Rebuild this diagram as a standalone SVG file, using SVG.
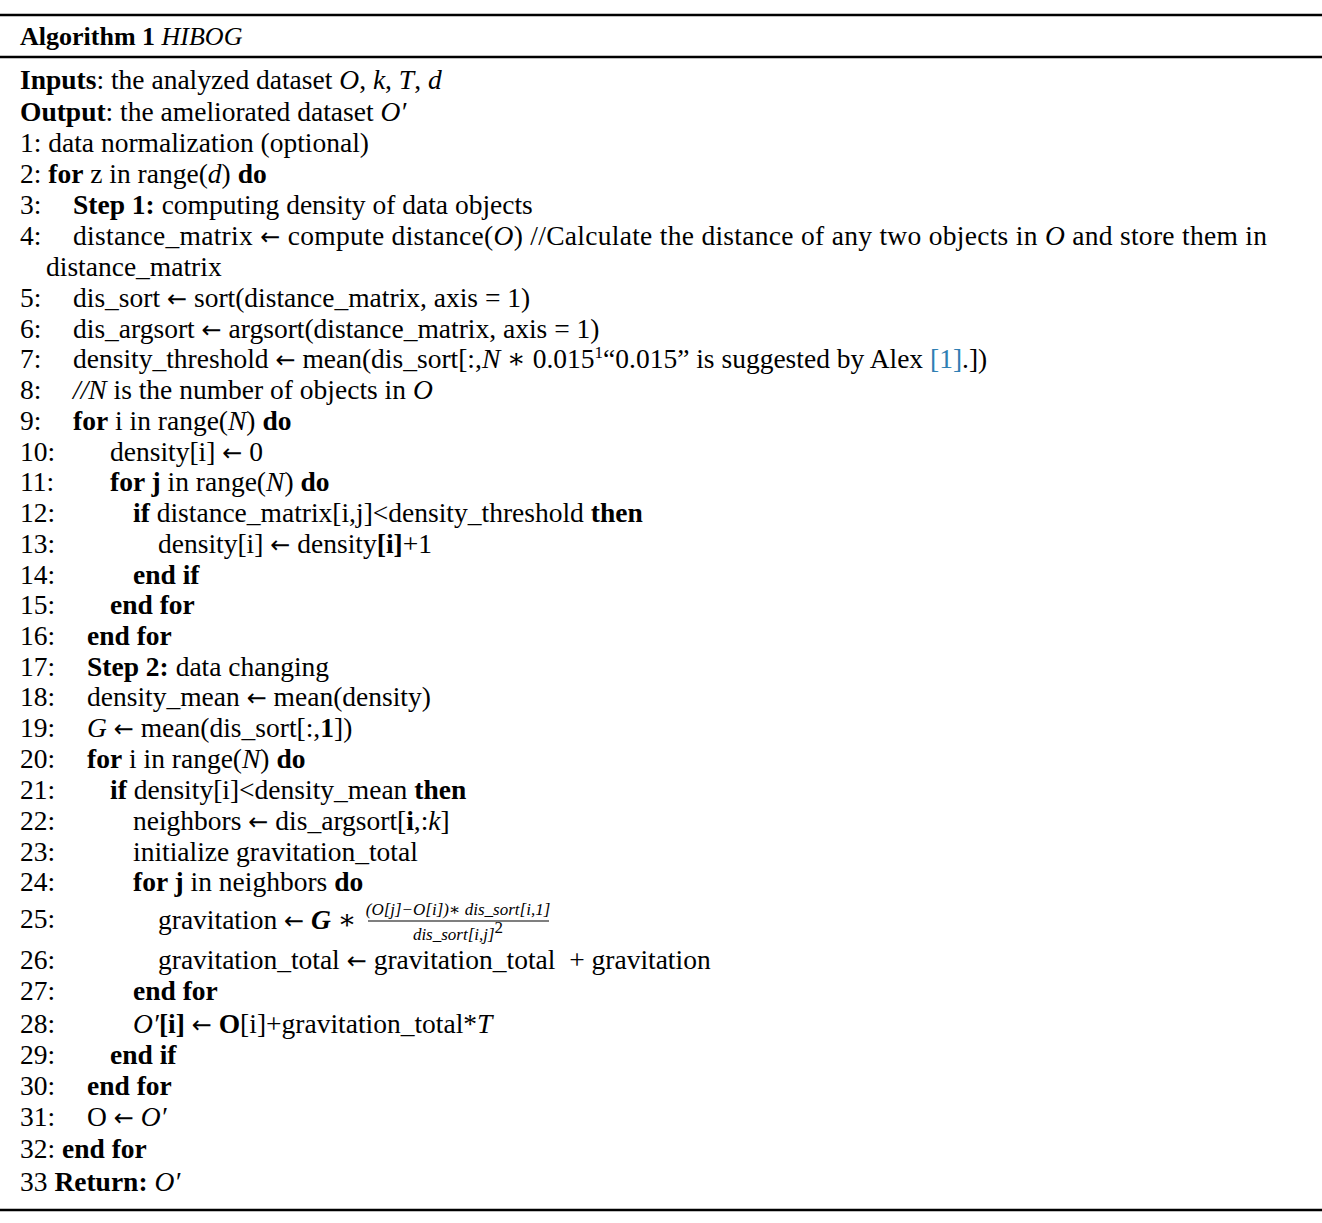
<svg xmlns="http://www.w3.org/2000/svg" width="1322" height="1223" viewBox="0 0 1322 1223">
<style>
text{font-family:"Liberation Serif","DejaVu Serif",serif;font-size:27.5px;fill:#000}
.b{font-weight:bold}
.i{font-style:italic}
.h{font-size:26px}
.sup{font-size:17px}
.cite{fill:#2f7fb3}
.fr{font-size:17px;font-style:italic}
.ar{font-family:"DejaVu Sans",sans-serif;font-size:24px;font-weight:normal;font-style:normal}
.rule{stroke:#000;stroke-width:2.5}
</style>
<rect width="1322" height="1223" fill="#fff"/>
<g id="rules">
<line class="rule" x1="0" y1="15" x2="1322" y2="15"/>
<line class="rule" x1="0" y1="57" x2="1322" y2="57" stroke-width="2"/>
<line class="rule" x1="0" y1="1210" x2="1322" y2="1210"/>
</g>
<g id="header">
<text class="h" x="20" y="45"><tspan class="b">Algorithm 1</tspan> <tspan class="i">HIBOG</tspan></text>
</g>
<g id="lines">
<text x="20" y="89"><tspan class="b">Inputs</tspan>: the analyzed dataset <tspan class="i">O</tspan>, <tspan class="i">k</tspan>, <tspan class="i">T</tspan>, <tspan class="i">d</tspan></text>
<text x="20" y="121"><tspan class="b">Output</tspan>: the ameliorated dataset <tspan class="i">O′</tspan></text>
<text x="20" y="152">1: data normalization (optional)</text>
<text x="20" y="183">2: <tspan class="b">for</tspan> z in range(<tspan class="i">d</tspan>) <tspan class="b">do</tspan></text>
<text x="20" y="214">3:</text><text x="73" y="214"><tspan class="b">Step 1:</tspan> computing density of data objects</text>
<text x="20" y="245">4:</text><text x="73" y="245" textLength="1194" lengthAdjust="spacing">distance_matrix <tspan class="ar">←</tspan> compute distance(<tspan class="i">O</tspan>) //Calculate the distance of any two objects in <tspan class="i">O</tspan> and store them in</text>
<text x="46" y="276">distance_matrix</text>
<text x="20" y="307">5:</text><text x="73" y="307">dis_sort <tspan class="ar">←</tspan> sort(distance_matrix, axis = 1)</text>
<text x="20" y="338">6:</text><text x="73" y="338">dis_argsort <tspan class="ar">←</tspan> argsort(distance_matrix, axis = 1)</text>
<text x="20" y="368">7:</text><text x="73" y="368">density_threshold <tspan class="ar">←</tspan> mean(dis_sort[:,<tspan class="i">N</tspan> ∗ 0.015<tspan class="sup" dy="-10">1</tspan><tspan dy="10">“0.015” is suggested by Alex </tspan><tspan class="cite">[1]</tspan>.])</text>
<text x="20" y="399">8:</text><text x="73" y="399"><tspan class="i">//N</tspan> is the number of objects in <tspan class="i">O</tspan></text>
<text x="20" y="430">9:</text><text x="73" y="430"><tspan class="b">for</tspan> i in range(<tspan class="i">N</tspan>) <tspan class="b">do</tspan></text>
<text x="20" y="461">10:</text><text x="110" y="461">density[i] <tspan class="ar">←</tspan> 0</text>
<text x="20" y="491">11:</text><text x="110" y="491"><tspan class="b">for j</tspan> in range(<tspan class="i">N</tspan>) <tspan class="b">do</tspan></text>
<text x="20" y="522">12:</text><text x="133" y="522"><tspan class="b">if</tspan> distance_matrix[i,j]&lt;density_threshold <tspan class="b">then</tspan></text>
<text x="20" y="553">13:</text><text x="158" y="553">density[i] <tspan class="ar">←</tspan> density<tspan class="b">[i]</tspan>+1</text>
<text x="20" y="584">14:</text><text x="133" y="584" class="b">end if</text>
<text x="20" y="614">15:</text><text x="110" y="614" class="b">end for</text>
<text x="20" y="645">16:</text><text x="87" y="645" class="b">end for</text>
<text x="20" y="676">17:</text><text x="87" y="676"><tspan class="b">Step 2:</tspan> data changing</text>
<text x="20" y="706">18:</text><text x="87" y="706">density_mean <tspan class="ar">←</tspan> mean(density)</text>
<text x="20" y="737">19:</text><text x="87" y="737"><tspan class="i">G</tspan> <tspan class="ar">←</tspan> mean(dis_sort[:,<tspan class="b">1</tspan>])</text>
<text x="20" y="768">20:</text><text x="87" y="768"><tspan class="b">for</tspan> i in range(<tspan class="i">N</tspan>) <tspan class="b">do</tspan></text>
<text x="20" y="799">21:</text><text x="110" y="799"><tspan class="b">if</tspan> density[i]&lt;density_mean <tspan class="b">then</tspan></text>
<text x="20" y="830">22:</text><text x="133" y="830">neighbors <tspan class="ar">←</tspan> dis_argsort[<tspan class="b">i</tspan>,:<tspan class="i">k</tspan>]</text>
<text x="20" y="861">23:</text><text x="133" y="861">initialize gravitation_total</text>
<text x="20" y="891">24:</text><text x="133" y="891"><tspan class="b">for j</tspan> in neighbors <tspan class="b">do</tspan></text>
<text x="20" y="928">25:</text><text x="158" y="929">gravitation <tspan class="ar">←</tspan> <tspan class="i b">G</tspan> ∗</text>
<text class="fr" x="458" y="915" text-anchor="middle">(O[j]−O[i])∗  dis_sort[i,1]</text>
<line x1="368" y1="921" x2="549" y2="921" stroke="#000" stroke-width="1.2"/>
<text class="fr" x="458" y="940" text-anchor="middle">dis_sort[i,j]<tspan class="sup" dy="-7" font-style="normal">2</tspan></text>
<text x="20" y="969">26:</text><text x="158" y="969">gravitation_total <tspan class="ar">←</tspan> gravitation_total&#160; + gravitation</text>
<text x="20" y="1000">27:</text><text x="133" y="1000" class="b">end for</text>
<text x="20" y="1033">28:</text><text x="133" y="1033"><tspan class="i">O′</tspan><tspan class="b">[i]</tspan> <tspan class="ar">←</tspan> <tspan class="b">O</tspan>[i]+gravitation_total*<tspan class="i">T</tspan></text>
<text x="20" y="1064">29:</text><text x="110" y="1064" class="b">end if</text>
<text x="20" y="1095">30:</text><text x="87" y="1095" class="b">end for</text>
<text x="20" y="1126">31:</text><text x="87" y="1126">O <tspan class="ar">←</tspan> <tspan class="i">O′</tspan></text>
<text x="20" y="1158">32: <tspan class="b">end for</tspan></text>
<text x="20" y="1191">33 <tspan class="b">Return:</tspan> <tspan class="i">O′</tspan></text>
</g>
</svg>
